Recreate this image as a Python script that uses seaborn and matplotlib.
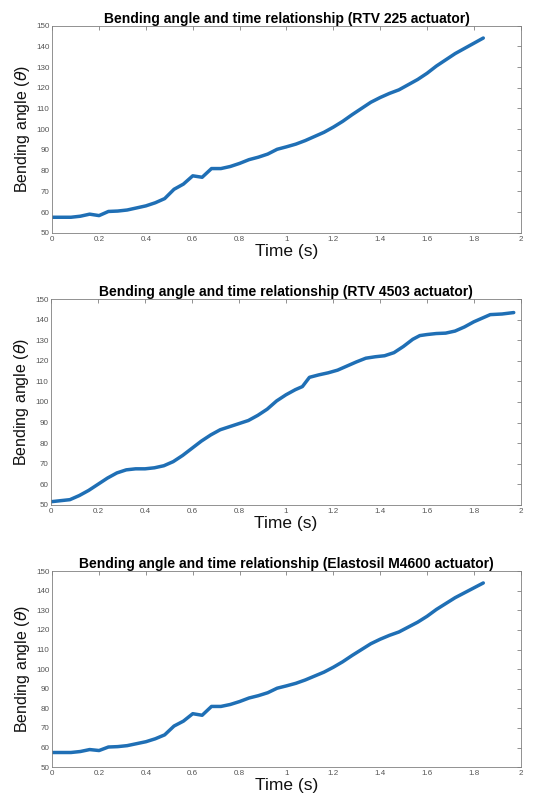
import numpy as np
import pandas as pd
import matplotlib
matplotlib.use("Agg")
import matplotlib.pyplot as plt
import seaborn as sns

# ---- data ----
time_a = [0, 0.04, 0.08, 0.12, 0.16, 0.20, 0.24, 0.28, 0.32, 0.36, 0.40, 0.44, 0.48,
          0.52, 0.56, 0.60, 0.64, 0.68, 0.72, 0.76, 0.80, 0.84, 0.88, 0.92, 0.96,
          1.00, 1.04, 1.08, 1.12, 1.16, 1.20, 1.24, 1.28, 1.32, 1.36, 1.40, 1.44,
          1.48, 1.52, 1.56, 1.60, 1.64, 1.68, 1.72, 1.76, 1.80, 1.84]
angle_rtv225 = [57.5, 57.5, 57.5, 58.0, 59.0, 58.3, 60.3, 60.5, 61.0, 62.0, 63.0, 64.5, 66.5,
                71.0, 73.5, 77.5, 76.8, 81.0, 81.0, 82.0, 83.5, 85.3, 86.5, 88.0, 90.3,
                91.5, 92.8, 94.5, 96.5, 98.5, 101.0, 103.8, 107.0, 110.0, 113.0, 115.3, 117.3,
                119.0, 121.5, 124.0, 127.0, 130.5, 133.5, 136.5, 139.0, 141.5, 144.0]
angle_m4600 = [57.5, 57.5, 57.5, 58.0, 59.0, 58.5, 60.3, 60.5, 61.0, 62.0, 63.0, 64.5, 66.5,
               71.0, 73.5, 77.3, 76.5, 81.0, 81.0, 82.0, 83.5, 85.3, 86.5, 88.0, 90.3,
               91.5, 92.8, 94.5, 96.5, 98.5, 101.0, 103.8, 107.0, 110.0, 113.0, 115.3, 117.3,
               119.0, 121.5, 124.0, 127.0, 130.5, 133.5, 136.5, 139.0, 141.5, 144.0]

time_b = [0, 0.04, 0.08, 0.12, 0.16, 0.20, 0.24, 0.28, 0.32, 0.36, 0.40, 0.44, 0.48,
          0.52, 0.56, 0.60, 0.64, 0.68, 0.72, 0.76, 0.80, 0.84, 0.88, 0.92, 0.96,
          1.00, 1.04, 1.07, 1.10, 1.14, 1.18, 1.22, 1.26, 1.30, 1.34, 1.38, 1.42,
          1.46, 1.50, 1.54, 1.57, 1.60, 1.64, 1.68, 1.72, 1.76, 1.80, 1.84, 1.87,
          1.92, 1.97]
angle_rtv4503 = [51.5, 52.0, 52.5, 54.5, 57.0, 60.0, 63.0, 65.5, 67.0, 67.5, 67.5, 68.0, 69.0,
                 71.0, 74.0, 77.5, 81.0, 84.0, 86.5, 88.0, 89.5, 91.0, 93.5, 96.5, 100.5,
                 103.5, 106.0, 107.5, 112.0, 113.2, 114.2, 115.5, 117.5, 119.5, 121.3, 122.0, 122.5,
                 124.0, 127.0, 130.5, 132.3, 132.8, 133.3, 133.5, 134.5, 136.5, 139.0, 141.0, 142.5,
                 142.8, 143.5]

titles = ["Bending angle and time relationship (RTV 225 actuator)",
          "Bending angle and time relationship (RTV 4503 actuator)",
          "Bending angle and time relationship (Elastosil M4600 actuator)"]
x_ticks = [0, 0.2, 0.4, 0.6, 0.8, 1, 1.2, 1.4, 1.6, 1.8, 2]
x_ticklabels = ["0", "0.2", "0.4", "0.6", "0.8", "1", "1.2", "1.4", "1.6", "1.8", "2"]
y_ticks = [50, 60, 70, 80, 90, 100, 110, 120, 130, 140, 150]

sns.set_style("white")
plt.rcParams['font.family'] = ['Liberation Sans', 'DejaVu Sans']

fig = plt.figure(figsize=(5.38, 8.0), dpi=100)
positions = [
    [0.097, 0.709, 0.871, 0.259],
    [0.095, 0.369, 0.873, 0.257],
    [0.097, 0.041, 0.871, 0.245],
]
series = [(time_a, angle_rtv225), (time_b, angle_rtv4503), (time_a, angle_m4600)]
line_color = "#1f6fb5"
axis_color = "#808080"

for pos, (t, a), title in zip(positions, series, titles):
    ax = fig.add_axes(pos)
    df = pd.DataFrame({"t": t, "a": a})
    sns.lineplot(data=df, x="t", y="a", ax=ax, color=line_color, linewidth=2.5,
                 solid_capstyle="round", solid_joinstyle="round")
    ax.set_xlim(0, 2)
    ax.set_ylim(50, 150)
    ax.set_xticks(x_ticks)
    ax.set_xticklabels(x_ticklabels)
    ax.set_yticks(y_ticks)
    ax.tick_params(direction="in", length=3, width=0.6, colors=axis_color,
                   labelsize=5.8, labelcolor="#555555", top=True, right=True, pad=2)
    for s in ax.spines.values():
        s.set_visible(True)
        s.set_color(axis_color)
        s.set_linewidth(0.6)
    ax.set_title(title, fontsize=10, fontweight="bold", pad=2, color="black")
    ax.set_xlabel("Time (s)", fontsize=12.5, labelpad=1, color="#111111")
    ax.set_ylabel(r"Bending angle ($\theta$)", fontsize=11.5, labelpad=3, color="#111111")

fig.savefig("out.png", dpi=100)
